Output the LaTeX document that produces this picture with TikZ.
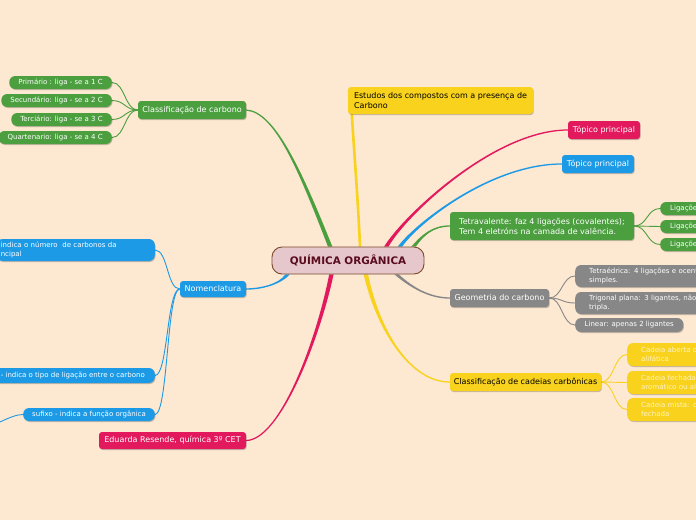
\documentclass[tikz,border=0pt]{standalone}
\usepackage{fontspec}
\setmainfont{DejaVu Sans}
\usetikzlibrary{calc,backgrounds}
\definecolor{bg}{HTML}{FDE8D2}
\definecolor{mgreen}{HTML}{4C9F3F}
\definecolor{mpink}{HTML}{E3195D}
\definecolor{mblue}{HTML}{1D9AE5}
\definecolor{myellow}{HTML}{F8D21C}
\definecolor{mgray}{HTML}{878787}
\definecolor{rootfill}{HTML}{E6C7CC}
\definecolor{rootdraw}{HTML}{7B4B2C}
\definecolor{roottext}{HTML}{5A0C1F}
\definecolor{paleyellow}{HTML}{FFF3C4}

% tapered main branch: colour, start, control 1, control 2, end, side
\newcommand{\branch}[6]{%
  \fill[#1] ($(#2)+(-2.2,0)$) .. controls ($(#3)+(-1.6,0)$) and ($(#4)+(0,{-1*(#6)})$) .. ($(#5)+(0,{-0.6*(#6)})$)
    -- ($(#5)+(0,{0.6*(#6)})$) .. controls ($(#4)+(0,{1*(#6)})$) and ($(#3)+(1.6,0)$) .. ($(#2)+(2.2,0)$) -- cycle;}

\begin{document}
\begin{tikzpicture}[x=1pt, y=-1pt,
  shade/.style={preaction={fill=black, opacity=0.22, transform canvas={xshift=0.7pt, yshift=-1pt}}},
  root/.style={rectangle, rounded corners=10pt, draw=rootdraw, line width=0.9pt, fill=rootfill, text=roottext,
    font=\fontsize{10.4}{12}\selectfont\bfseries, minimum width=152pt, minimum height=27pt},
  topic/.style={rectangle, rounded corners=3pt, inner sep=0pt, text=white, font=\fontsize{8}{10}\selectfont, shade},
  leaf/.style={topic, rounded corners=6pt, font=\fontsize{7}{8.6}\selectfont},
  twig/.style={line width=0.9pt, out distance=13pt, in distance=13pt}
]
  \useasboundingbox (0,0) rectangle (696,520);
  \begin{scope}[on background layer]
    \fill[bg] (0,0) rectangle (696,520);
  \end{scope}
  \clip (0,0) rectangle (696,520);

  \node[root] (qo) at (348,260.5) {QUÍMICA ORGÂNICA};

  % right side
  \node[topic, fill=myellow, text=black, inner xsep=6pt, align=left, minimum width=185pt, minimum height=27pt] (estudos) at (440.5,100.5) {Estudos dos compostos com a presença de\\Carbono};
  \node[topic, fill=mpink, minimum width=72pt, minimum height=18pt] (tp1) at (604,130) {Tópico principal};
  \node[topic, fill=mblue, minimum width=72pt, minimum height=18pt] (tp2) at (598,164) {Tópico principal};
  \node[topic, fill=mgreen, inner xsep=6pt, align=left, minimum width=184pt, minimum height=28pt] (tetra) at (542,226) {Tetravalente: faz 4 ligações (covalentes);\\Tem 4 eletróns na camada de valência.};
  \node[leaf, fill=mgreen, anchor=west, text width=50pt, inner xsep=10pt, align=left, minimum height=13pt] (lig1) at (660,208.5) {Ligações};
  \node[leaf, fill=mgreen, anchor=west, text width=50pt, inner xsep=10pt, align=left, minimum height=13pt] (lig2) at (660,226.5) {Ligações};
  \node[leaf, fill=mgreen, anchor=west, text width=50pt, inner xsep=10pt, align=left, minimum height=13pt] (lig3) at (660,244.5) {Ligações};

  \node[topic, fill=mgray, minimum width=99pt, minimum height=18pt] (geo) at (499.5,298) {Geometria do carbono};
  \node[leaf, fill=mgray, anchor=west, text width=130pt, inner xsep=14pt, align=left, minimum height=22pt] (tetr) at (575,276) {Tetraédrica: 4 ligações e ocent\\simples.};
  \node[leaf, fill=mgray, anchor=west, text width=130pt, inner xsep=14pt, align=left, minimum height=22pt] (trig) at (575,303) {Trigonal plana: 3 ligantes, não\\tripla.};
  \node[leaf, fill=mgray, anchor=west, minimum width=108pt, minimum height=14pt] (lin) at (575,325) {Linear: apenas 2 ligantes};

  \node[topic, fill=myellow, text=black, minimum width=151pt, minimum height=18pt] (cad) at (525.5,382) {Classificação de cadeias carbônicas};
  \node[leaf, fill=myellow, text=paleyellow, anchor=west, text width=90pt, inner xsep=14pt, align=left, minimum height=23pt] (ca1) at (627,354.5) {Cadeia aberta ou\\alifática};
  \node[leaf, fill=myellow, text=paleyellow, anchor=west, text width=90pt, inner xsep=14pt, align=left, minimum height=23pt] (ca2) at (627,382.5) {Cadeia fechada\\aromático ou al};
  \node[leaf, fill=myellow, text=paleyellow, anchor=west, text width=90pt, inner xsep=14pt, align=left, minimum height=23pt] (ca3) at (627,409.5) {Cadeia mista: c\\fechada};

  % left side
  \node[topic, fill=mgreen, minimum width=108pt, minimum height=18pt] (cc) at (192,110) {Classificação de carbono};
  \node[leaf, fill=mgreen, anchor=east, inner xsep=9pt, minimum height=13pt] (pri) at (112,82.5) {Primário : liga - se a 1 C};
  \node[leaf, fill=mgreen, anchor=east, inner xsep=9pt, minimum height=13pt] (sec) at (112,100.5) {Secundário: liga - se a 2 C};
  \node[leaf, fill=mgreen, anchor=east, inner xsep=9pt, minimum height=13pt] (ter) at (112,119.5) {Terciário: liga - se a 3 C};
  \node[leaf, fill=mgreen, anchor=east, inner xsep=9pt, minimum height=13pt] (qua) at (112,137.5) {Quartenario: liga - se a 4 C};

  \node[topic, fill=mblue, minimum width=66pt, minimum height=16pt] (nom) at (213,289) {Nomenclatura};
  \node[leaf, fill=mblue, anchor=east, text width=150pt, inner xsep=4pt, align=left, minimum height=22pt] (pref) at (155,250) {indica o número \ de carbonos da\\ncipal};
  \node[leaf, fill=mblue, anchor=east, inner xsep=10pt, minimum height=15pt] (inf) at (155,375.5) {- indica o tipo de ligação entre o carbono};
  \node[leaf, fill=mblue, anchor=east, inner xsep=9pt, minimum height=13pt] (suf) at (155,414.5) {sufixo - indica a função orgânica};
  \coordinate (sufout) at (-20,428);

  \node[topic, fill=mpink, minimum width=147pt, minimum height=17pt] (edu) at (172.5,440.5) {Eduarda Resende, química 3º CET};

  \begin{scope}[on background layer]
    % main branches
    \branch{mgreen}{qo.142}{300,170}{275,112}{cc.east}{-1}
    \draw[myellow, line width=2.6pt] ($(qo.north)+(12,0)$) .. controls (358,200) and (354,150) .. ($(estudos.south west)+(4,0)$);
    \branch{mpink}{qo.20}{405,215}{495,130}{tp1.west}{1}
    \branch{mblue}{qo.15}{415,225}{490,164}{tp2.west}{1}
    \branch{mgreen}{qo.12}{422,236}{432,226}{tetra.west}{1}
    \branch{mgray}{qo.-16}{412,288}{430,298}{geo.west}{-1}
    \branch{myellow}{qo.-38}{378,330}{410,382}{cad.west}{-1}
    \branch{mpink}{qo.-140}{318,340}{280,440}{edu.east}{1}
    \branch{mblue}{qo.-167}{280,284}{262,289}{nom.east}{1}

    % sub branches
    \draw[twig, mgreen] (cc.west) to[out=180, in=0] (pri.east);
    \draw[twig, mgreen] (cc.west) to[out=180, in=0] (sec.east);
    \draw[twig, mgreen] (cc.west) to[out=180, in=0] (ter.east);
    \draw[twig, mgreen] (cc.west) to[out=180, in=0] (qua.east);
    \draw[twig, mgreen] (tetra.east) to[out=0, in=180] (lig1.west);
    \draw[twig, mgreen] (tetra.east) to[out=0, in=180] (lig2.west);
    \draw[twig, mgreen] (tetra.east) to[out=0, in=180] (lig3.west);
    \draw[twig, mgray] (geo.east) to[out=0, in=180] (tetr.west);
    \draw[twig, mgray] (geo.east) to[out=0, in=180] (trig.west);
    \draw[twig, mgray] (geo.east) to[out=0, in=180] (lin.west);
    \draw[twig, myellow] (cad.east) to[out=0, in=180] (ca1.west);
    \draw[twig, myellow] (cad.east) to[out=0, in=180] (ca2.west);
    \draw[twig, myellow] (cad.east) to[out=0, in=180] (ca3.west);
    \draw[twig, mblue] (nom.west) to[out=180, in=0] (pref.east);
    \draw[twig, mblue] (nom.west) to[out=180, in=0] (inf.east);
    \draw[twig, mblue] (nom.west) to[out=180, in=0] (suf.east);
    \draw[twig, mblue] (suf.west) to[out=180, in=0] (sufout);
  \end{scope}
\end{tikzpicture}
\end{document}
